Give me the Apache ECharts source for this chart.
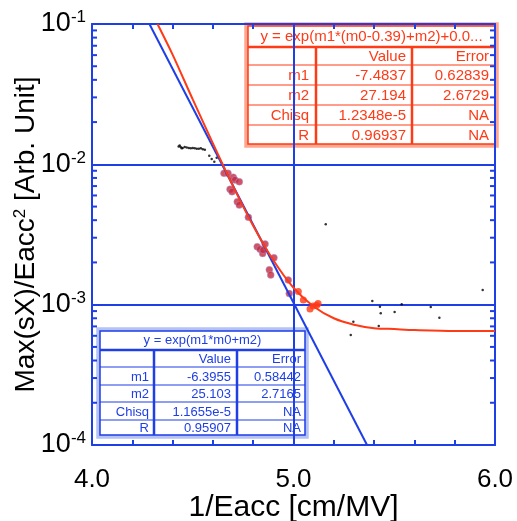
<!DOCTYPE html>
<html>
<head>
<meta charset="utf-8" />
<title>Max(sX)/Eacc2 vs 1/Eacc</title>
<script type="text/javascript" src="https://cdn.jsdelivr.net/npm/echarts@6/dist/echarts.min.js"></script>
<style>
  html, body { margin: 0; padding: 0; background: #fff; }
  #main { width: 517px; height: 521px; }
</style>
</head>
<body>
<div id="main"></div>
<script type="text/javascript">
// axis ranges and ticks
var xRange = [4.0, 6.0];
var yRange = [1e-4, 1e-1];
var yMinorTicks = [2e-4, 3e-4, 4e-4, 5e-4, 6e-4, 7e-4, 8e-4, 9e-4,
                   2e-3, 3e-3, 4e-3, 5e-3, 6e-3, 7e-3, 8e-3, 9e-3,
                   2e-2, 3e-2, 4e-2, 5e-2, 6e-2, 7e-2, 8e-2, 9e-2];

// measured points (dark red, used in the fits)
var fitX = [4.655, 4.675, 4.701, 4.710, 4.731, 4.685, 4.695, 4.721, 4.731, 4.776,
            4.859, 4.820, 4.834, 4.847, 4.903, 4.880, 4.887, 4.974, 4.979, 4.850];
var fitY = [0.00863, 0.00863, 0.00809, 0.00774, 0.00752, 0.00664, 0.00638, 0.00542, 0.00513, 0.0042,
            0.00271, 0.00259, 0.00248, 0.00232, 0.00216, 0.00177, 0.00163, 0.0015, 0.0012, 0.00245];

// bright red points at the end of the red fit range
var endX = [5.024, 5.049, 5.082, 5.098, 5.115, 5.122];
var endY = [0.00124, 0.00108, 0.00093, 0.00098, 0.00099, 0.00102];

// small black points
var blackX = [4.430, 4.435, 4.440, 4.445, 4.450, 4.460, 4.470, 4.480, 4.490, 4.500, 4.510, 4.520,
              4.530, 4.540, 4.550, 4.560, 4.582, 4.594, 4.607, 4.619,
              5.160, 5.391, 5.429, 5.433, 5.502, 5.537, 5.681, 5.724, 5.939, 5.297, 5.284, 5.423];
var blackY = [0.0134, 0.0136, 0.0133, 0.0130, 0.0131, 0.0133, 0.0132, 0.0131, 0.0130, 0.0131, 0.0130, 0.0129,
              0.0129, 0.0130, 0.0128, 0.0127, 0.01152, 0.01092, 0.01044, 0.01115,
              0.00374, 0.00106, 0.000967, 0.000867, 0.000887, 0.001006, 0.000962, 0.000807, 0.00127, 0.000756, 0.000608, 0.000705];

// blue fit line y = exp(m1*m0+m2), read at the plot edges
var blueLineX = [4.285, 5.365];
var blueLineY = [0.1, 0.0001];

// red fit curve y = exp(m1*(m0-0.39)+m2)+c
var redCurveX = [4.325, 4.4, 4.5, 4.6, 4.7, 4.8, 4.9, 5.0, 5.1, 5.2, 5.3, 5.4, 5.5, 5.6, 5.8, 6.0];
var redCurveY = [0.100, 0.0605, 0.0290, 0.0141, 0.0070, 0.00365, 0.00207, 0.00132, 0.00097,
                 0.00080, 0.00072, 0.00068, 0.00067, 0.00066, 0.00065, 0.00065];

// fit result tables
var redTitle = 'y = exp(m1*(m0-0.39)+m2)+0.0...';
var blueTitle = 'y = exp(m1*m0+m2)';
var tableHead = ['', 'Value', 'Error'];
var tableNames = ['m1', 'm2', 'Chisq', 'R'];
var redValues = ['-7.4837', '27.194', '1.2348e-5', '0.96937'];
var redErrors = ['0.62839', '2.6729', 'NA', 'NA'];
var blueValues = ['-6.3955', '25.103', '1.1655e-5', '0.95907'];
var blueErrors = ['0.58442', '2.7165', 'NA', 'NA'];

var BLUE = '#1e3ee6';
var RED = '#ff3a16';
var FONT = 'Liberation Sans, Arial, Helvetica, sans-serif';

function zip(a, b) {
    return a.map(function (v, i) { return [v, b[i]]; });
}

// table drawn with graphic elements
function makeTable(t, title, values, errors, color, light) {
    var els = [];
    els.push({ type: 'rect', shape: { x: t.x0 - 3, y: t.y0 - 3, width: t.x1 - t.x0 + 6, height: t.y1 - t.y0 + 6 },
               style: { fill: light, stroke: light, lineWidth: 1.5 } });
    els.push({ type: 'rect', shape: { x: t.x0, y: t.y0, width: t.x1 - t.x0, height: t.y1 - t.y0 },
               style: { fill: '#fff', stroke: color, lineWidth: 1.5 } });
    // header line
    els.push({ type: 'line', shape: { x1: t.x0, y1: t.rows[0], x2: t.x1, y2: t.rows[0] },
               style: { stroke: color, lineWidth: 2.5 } });
    for (var r = 1; r < t.rows.length - 1; r++) {
        els.push({ type: 'line', shape: { x1: t.x0, y1: t.rows[r], x2: t.x1, y2: t.rows[r] },
                   style: { stroke: color, lineWidth: 1.2 } });
    }
    t.cols.forEach(function (cx) {
        els.push({ type: 'line', shape: { x1: cx, y1: t.rows[0], x2: cx, y2: t.y1 },
                   style: { stroke: color, lineWidth: 2.5 } });
    });
    els.push({ type: 'text', x: (t.x0 + t.x1) / 2, y: (t.y0 + t.rows[0]) / 2,
               style: { text: title, fill: color, font: t.font + 'px ' + FONT, align: 'center', verticalAlign: 'middle' } });
    var lines = [tableHead];
    tableNames.forEach(function (n, i) { lines.push([n, values[i], errors[i]]); });
    lines.forEach(function (row, r) {
        var cy = (t.rows[r] + t.rows[r + 1]) / 2;
        row.forEach(function (txt, c) {
            els.push({ type: 'text', x: t.right[c], y: cy + 1,
                       style: { text: txt, fill: color, font: t.font + 'px ' + FONT, align: 'right', verticalAlign: 'middle' } });
        });
    });
    return { type: 'group', z: 100, children: els };
}

var myChart = echarts.init(document.getElementById('main'));

var supRich = {
    b: { fontSize: 27, fontFamily: FONT, color: '#000', lineHeight: 30 },
    s: { fontSize: 17, fontFamily: FONT, color: '#000', verticalAlign: 'top', lineHeight: 14 }
};

myChart.setOption({
    animation: false,
    backgroundColor: '#fff',
    grid: { left: 92, top: 24, right: 22, bottom: 76, outerBoundsMode: 'none', containLabel: false },
    xAxis: [{
        type: 'value', min: xRange[0], max: xRange[1], interval: 1,
        name: '1/Eacc [cm/MV]', nameLocation: 'middle', nameGap: 48, nameMoveOverlap: false,
        nameTextStyle: { fontSize: 30, fontFamily: FONT, color: '#000' },
        axisLine: { show: true, lineStyle: { color: BLUE, width: 2 } },
        axisTick: { show: true, inside: true, length: 8, lineStyle: { color: BLUE, width: 2 } },
        minorTick: { show: true, splitNumber: 5, length: 5, lineStyle: { color: BLUE, width: 2 } },
        axisLabel: { fontSize: 26, fontFamily: FONT, color: '#000', margin: 22,
                     formatter: function (v) { return v.toFixed(1); } },
        splitLine: { show: true, lineStyle: { color: BLUE, width: 2 } }
    }, {
        type: 'value', position: 'top', min: xRange[0], max: xRange[1], interval: 1,
        axisLine: { show: true, lineStyle: { color: BLUE, width: 2 } },
        axisTick: { show: true, inside: true, length: 8, lineStyle: { color: BLUE, width: 2 } },
        minorTick: { show: true, splitNumber: 5, length: 5, lineStyle: { color: BLUE, width: 2 } },
        axisLabel: { show: false },
        splitLine: { show: false }
    }],
    yAxis: [{
        type: 'log', logBase: 10, min: yRange[0], max: yRange[1],
        name: 'Max(sX)/Eacc{s|2} [Arb. Unit]', nameLocation: 'middle', nameGap: 52, nameRotate: 90,
        nameMoveOverlap: false,
        nameTextStyle: { fontSize: 28, fontFamily: FONT, color: '#000',
                         rich: { s: { fontSize: 17, fontFamily: FONT, color: '#000', verticalAlign: 'top', lineHeight: 14 } } },
        axisLine: { show: true, lineStyle: { color: BLUE, width: 2 } },
        axisTick: { show: true, inside: true, length: 8, lineStyle: { color: BLUE, width: 2 } },
        axisLabel: { margin: 6, rich: supRich,
                     formatter: function (v) { return '{b|10}{s|' + Math.round(Math.log10(v)) + '}'; } },
        splitLine: { show: true, lineStyle: { color: BLUE, width: 2 } }
    }, {
        type: 'log', logBase: 10, position: 'right', min: yRange[0], max: yRange[1],
        axisLine: { show: true, lineStyle: { color: BLUE, width: 2 } },
        axisTick: { show: true, inside: true, length: 8, lineStyle: { color: BLUE, width: 2 } },
        axisLabel: { show: false },
        splitLine: { show: false }
    }],
    series: [{
        // log minor ticks on left and right frame
        type: 'custom', silent: true,
        data: yMinorTicks.map(function (v) { return [xRange[0], v]; }),
        renderItem: function (params, api) {
            var v = api.value(1);
            var pl = api.coord([xRange[0], v]);
            var pr = api.coord([xRange[1], v]);
            return { type: 'group', children: [
                { type: 'line', shape: { x1: pl[0], y1: pl[1], x2: pl[0] + 5, y2: pl[1] }, style: { stroke: BLUE, lineWidth: 2 } },
                { type: 'line', shape: { x1: pr[0] - 5, y1: pr[1], x2: pr[0], y2: pr[1] }, style: { stroke: BLUE, lineWidth: 2 } }
            ] };
        }
    }, {
        type: 'scatter', data: zip(blackX, blackY), symbolSize: 2.5,
        itemStyle: { color: '#000' }, silent: true
    }, {
        type: 'line', data: zip(blueLineX, blueLineY), showSymbol: false,
        lineStyle: { color: BLUE, width: 2 }, silent: true
    }, {
        type: 'scatter', data: zip(fitX, fitY), symbolSize: 7,
        itemStyle: { color: '#c8283a', borderColor: 'rgba(160,175,255,0.5)', borderWidth: 1 }, silent: true
    }, {
        type: 'line', data: zip(redCurveX, redCurveY), showSymbol: false, smooth: 0.3,
        lineStyle: { color: RED, width: 2 }, silent: true, z: 3
    }, {
        type: 'scatter', data: zip(endX, endY), symbolSize: 7,
        itemStyle: { color: RED }, silent: true, z: 4
    }],
    graphic: [
        makeTable({ x0: 248, y0: 26, x1: 495, y1: 144, rows: [47, 65, 85, 105, 125, 144],
                    cols: [316, 412], right: [309, 406, 489], font: 15 },
                  redTitle, redValues, redErrors, RED, '#ffa690'),
        makeTable({ x0: 100, y0: 331, x1: 305, y1: 435, rows: [350, 367, 385, 402, 420, 435],
                    cols: [154, 237], right: [149, 231, 301], font: 13 },
                  blueTitle, blueValues, blueErrors, BLUE, '#b4c2f8')
    ]
});
</script>
</body>
</html>
